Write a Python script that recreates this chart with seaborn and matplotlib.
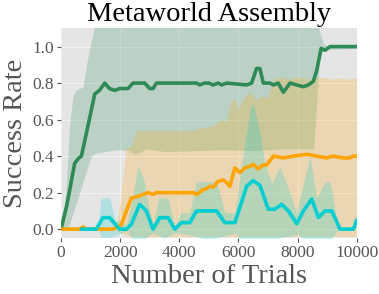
import numpy as np
import pandas as pd
import matplotlib
matplotlib.use('Agg')
import matplotlib.pyplot as plt
import seaborn as sns

# --- data (knots of each polyline) ---
green_x = [0, 180, 290, 460, 600, 690, 850, 970, 1140, 1300, 1480, 1640, 1814, 1983, 2266,
           2434, 2830, 3000, 3113, 3226, 4583, 4696, 4850, 5000, 5146, 5318, 5431, 5600,
           6278, 6446, 6616, 6729, 6842, 7068, 7181, 7350, 7520, 7746, 7972, 8198, 8368,
           8537, 8650, 8800, 8932, 9100, 10000]
green_y = [0.0, 0.12, 0.21, 0.36, 0.39, 0.40, 0.52, 0.61, 0.74, 0.76, 0.80, 0.77, 0.76, 0.77, 0.77,
           0.80, 0.80, 0.77, 0.77, 0.80, 0.80, 0.79, 0.80, 0.80, 0.79, 0.80, 0.79, 0.80,
           0.79, 0.80, 0.88, 0.88, 0.80, 0.80, 0.79, 0.80, 0.75, 0.80, 0.79, 0.78, 0.79,
           0.81, 0.87, 0.99, 0.98, 1.0, 1.0]
green_up_x = [0, 100, 180, 290, 400, 500, 750, 850, 970, 1150, 1300, 8600, 8706, 8875, 9000, 10000]
green_up = [0.0, 0.10, 0.25, 0.57, 0.73, 0.76, 0.78, 0.89, 0.99, 1.12, 1.25, 1.25, 1.11, 1.015, 1.005, 1.005]
green_lo_x = [0, 232, 1023, 1192, 1870, 2300, 2500, 2900, 3500, 4500, 5500, 6500, 7500, 8550, 8650, 8760, 9000, 10000]
green_lo = [0.0, 0.0, 0.40, 0.417, 0.435, 0.43, 0.41, 0.44, 0.425, 0.43, 0.435, 0.43, 0.44, 0.44, 0.70, 0.97, 0.985, 0.99]

orange_x = [0, 650, 740, 850, 1750, 1900, 2040, 2210, 2380, 2500, 2718, 2940, 3113, 3226, 4470,
            4600, 4800, 4900, 5030, 5150, 5300, 5480, 5600, 5710, 5880, 6050, 6220, 6390, 6500,
            6670, 6840, 6950, 7180, 7520, 7860, 8310, 8650, 8980, 9200, 9540, 9750, 9880, 10000]
orange_y = [0.0, 0.0, 0.012, 0.0, 0.0, 0.01, 0.025, 0.10, 0.17, 0.175, 0.186, 0.20, 0.19, 0.20, 0.20,
            0.19, 0.217, 0.22, 0.235, 0.23, 0.26, 0.27, 0.255, 0.235, 0.335, 0.31, 0.335, 0.345, 0.355,
            0.33, 0.353, 0.35, 0.40, 0.39, 0.40, 0.41, 0.40, 0.39, 0.40, 0.39, 0.39, 0.40, 0.40]
orange_up_x = [0, 600, 740, 900, 1800, 1900, 2000, 2200, 2400, 2550, 4460, 4600, 5000, 5200, 5400,
               5600, 5750, 5880, 6000, 6200, 6400, 6600, 6800, 7000, 7200, 7500, 7700, 7900, 8200,
               8400, 8600, 8900, 9200, 9400, 9700, 10000]
orange_up = [0.0, 0.0, 0.02, 0.0, 0.0, 0.05, 0.15, 0.44, 0.46, 0.54, 0.54, 0.55, 0.56, 0.57, 0.60,
             0.59, 0.70, 0.72, 0.66, 0.72, 0.75, 0.71, 0.73, 0.72, 0.825, 0.83, 0.82, 0.83, 0.83,
             0.82, 0.83, 0.83, 0.82, 0.83, 0.82, 0.83]
orange_lo_x = [0, 1800, 2000, 2300, 10000]
orange_lo = [0.0, 0.0, -0.02, -0.04, -0.04]

cyan_x = [684, 1192, 1418, 1644, 1983, 2210, 2380, 2660, 2886, 3113, 3339, 3622, 3848, 4074, 4357,
          4583, 5261, 5544, 5883, 6280, 6503, 6730, 7010, 7231, 7463, 7690, 7973, 8199, 8481,
          8706, 8932, 9158, 9440, 9893, 10000]
cyan_y = [0.0, 0.0, 0.063, 0.063, 0.0, 0.0, 0.027, 0.136, 0.10, 0.0, 0.063, 0.063, 0.0, 0.036, 0.036,
          0.10, 0.10, 0.036, 0.036, 0.235, 0.266, 0.24, 0.109, 0.109, 0.136, 0.10, 0.03, 0.10, 0.165,
          0.064, 0.10, 0.10, 0.0, 0.0, 0.05]
cyan_up_x = [684, 1250, 1350, 1650, 1850, 2000, 2200, 2400, 2600, 2800, 3000, 3110, 3300, 3620, 3850,
             4050, 4350, 4580, 5260, 5540, 5880, 6170, 6390, 6500, 6730, 6900, 7130, 7400, 7630,
             7970, 8420, 8650, 8930, 9100, 9385, 9780, 10000]
cyan_up = [0.0, 0.0, 0.17, 0.17, 0.04, 0.05, 0.02, 0.15, 0.35, 0.27, 0.10, 0.01, 0.17, 0.17, 0.01,
           0.09, 0.09, 0.26, 0.26, 0.09, 0.09, 0.42, 0.65, 0.69, 0.53, 0.35, 0.25, 0.34, 0.25,
           0.09, 0.40, 0.17, 0.26, 0.26, 0.0, 0.0, 0.06]
cyan_lo_x = [684, 1250, 1350, 1650, 1900, 2200, 2600, 3110, 3500, 3850, 4300, 5000, 5900, 6500, 7000,
             8000, 8400, 9100, 9385, 9780, 10000]
cyan_lo = [0.0, 0.0, -0.045, -0.045, -0.03, -0.01, -0.08, -0.02, -0.05, -0.02, -0.03, -0.06, -0.02,
           -0.15, -0.06, -0.03, -0.07, -0.06, 0.0, 0.0, 0.04]

GREEN = '#2e8b57'
ORANGE = '#ffa500'
CYAN = '#00ced1'
TXT = '#555555'

sns.set_style('darkgrid', {'axes.facecolor': '#e5e5e5', 'grid.color': '#f2f2f2'})
plt.rcParams['font.family'] = ['Liberation Serif', 'DejaVu Serif']

fig = plt.figure(figsize=(3.79, 2.94), dpi=100)
ax = fig.add_axes([0.161, 0.1895, 0.78, 0.7142])


def band(ux, u, lx, l, color):
    # put both edges on a common x grid (union of knots) to fill between them
    xs = np.union1d(ux, lx)
    ax.fill_between(xs, np.interp(xs, lx, l), np.interp(xs, ux, u),
                    color=color, alpha=0.22, linewidth=0)


band(green_up_x, green_up, green_lo_x, green_lo, GREEN)
band(orange_up_x, orange_up, orange_lo_x, orange_lo, ORANGE)
band(cyan_up_x, cyan_up, cyan_lo_x, cyan_lo, CYAN)

sns.lineplot(x=green_x, y=green_y, color=GREEN, linewidth=2.6, ax=ax)
sns.lineplot(x=orange_x, y=orange_y, color=ORANGE, linewidth=2.6, ax=ax)
sns.lineplot(x=cyan_x, y=cyan_y, color=CYAN, linewidth=2.6, ax=ax)

ax.set_xlim(0, 10000)
ax.set_ylim(-0.05, 1.1)
ax.set_xticks([0, 2000, 4000, 6000, 8000, 10000])
ax.set_yticks([0.0, 0.2, 0.4, 0.6, 0.8, 1.0])
ax.set_yticklabels(['0.0', '0.2', '0.4', '0.6', '0.8', '1.0'])
ax.tick_params(axis='both', labelsize=12.5, labelcolor=TXT, color=TXT,
               length=3, width=0.8, direction='out', pad=2, bottom=True, left=True)
for s in ax.spines.values():
    s.set_visible(False)

ax.set_title('Metaworld Assembly', fontsize=20.5, color='black', pad=5.5)
ax.set_xlabel('Number of Trials', fontsize=20.5, color=TXT, labelpad=2)
ax.set_ylabel('Success Rate', fontsize=20.5, color=TXT, labelpad=3)

fig.savefig('out.png', dpi=100)
